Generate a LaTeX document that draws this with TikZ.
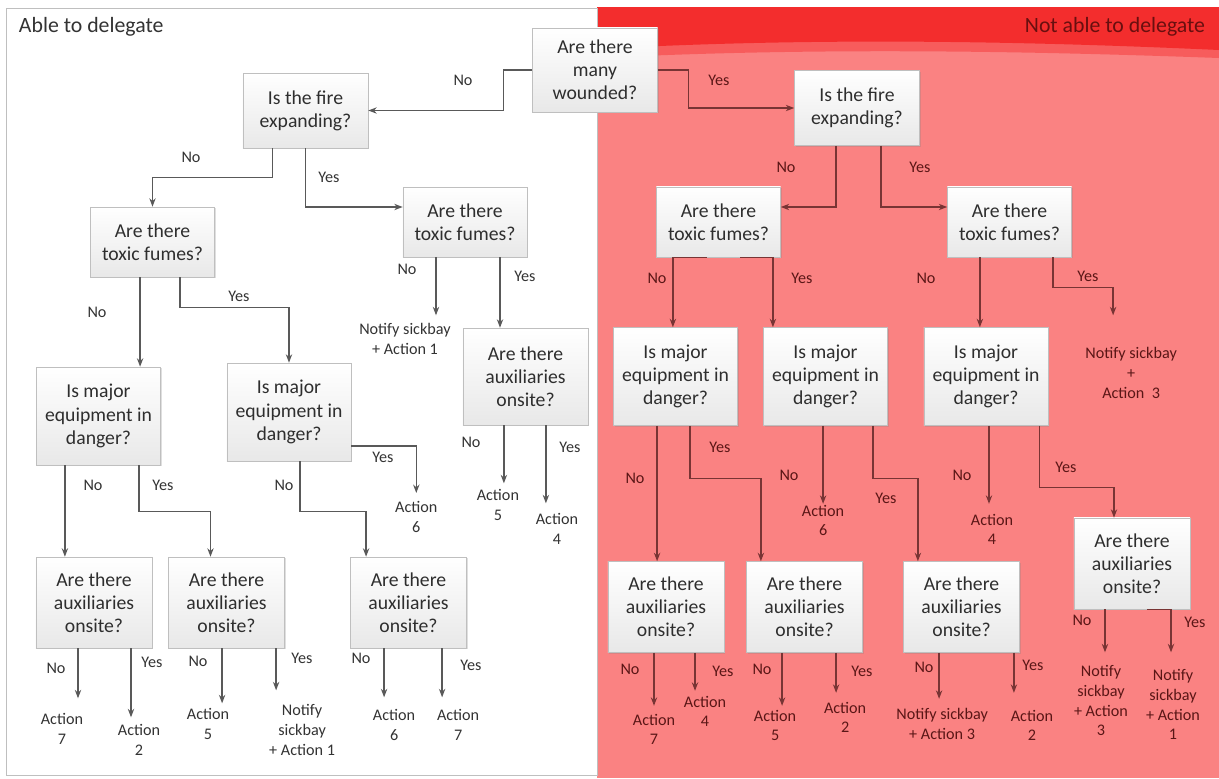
\documentclass[tikz,border=0pt]{standalone}
\usepackage{fontspec}
\setmainfont{Carlito}
\usepackage{tikz}
\usetikzlibrary{arrows, arrows.meta, positioning, shadows}

\definecolor{rbg}{RGB}{250,130,130}
\definecolor{rtop}{RGB}{243,45,45}
\definecolor{rmid}{RGB}{247,92,92}
\definecolor{rtxt}{RGB}{90,22,22}
\definecolor{rline}{RGB}{120,52,52}
\definecolor{rtitle}{RGB}{105,15,15}

\tikzset{
  q/.style={draw=black!25, top color=white, bottom color=black!9, align=center,
    text=black!82, inner sep=2pt, font=\fontsize{14}{16.5}\selectfont,
    drop shadow={opacity=0.25, shadow xshift=0.8pt, shadow yshift=-0.8pt}},
  fire/.style={q, minimum width=3.125cm, minimum height=1.875cm},
  tox/.style={q, minimum width=3.1cm, minimum height=1.75cm},
  maj/.style={q, minimum width=3.1cm, minimum height=2.45cm},
  aux/.style={q, minimum width=2.9cm, minimum height=2.275cm},
  lab/.style={align=center, inner sep=0pt, font=\fontsize{11.5}{14}\selectfont, text=black!80},
  rlab/.style={lab, text=rtxt},
  ln/.style={->, draw=black!65, line width=0.9pt},
  rln/.style={ln, draw=rline},
}

\begin{document}
\begin{tikzpicture}[x=0.025cm, y=-0.025cm, >={Stealth[length=6pt,width=4.5pt]}, node distance=0.2cm]
\useasboundingbox (0,0) rectangle (1219,778);
\fill[rbg] (597,7) rectangle (1219,778);
\fill[rmid] (597,7) -- (1219,7) -- (1219,58) .. controls (1000,50) and (800,48) .. (597,58) -- cycle;
\fill[rtop] (597,7) -- (1219,7) -- (1219,50) .. controls (1000,40) and (800,38) .. (597,49) -- cycle;
\draw[black!25, fill=white] (6,8) rectangle (597,775);

\node[anchor=west, font=\fontsize{15.5}{18}\selectfont, text=black!80] (t1) at (14,27) {Able to delegate};
\node[anchor=east, font=\fontsize{15.5}{18}\selectfont, text=rtitle] (t2) at (1210,27) {Not able to delegate};

\node[q, minimum width=3.125cm, minimum height=2.1cm] (w) at (595,70) {Are there\\many\\wounded?};
\node[fire] (fL) at (305.5,110.5) {Is the fire\\expanding?};
\node[fire] (fR) at (857,108) {Is the fire\\expanding?};
\node[tox] (tL1) at (152.5,242) {Are there\\toxic fumes?};
\node[tox] (tL2) at (465,222) {Are there\\toxic fumes?};
\node[tox] (tR1) at (718.5,222) {Are there\\toxic fumes?};
\node[tox] (tR2) at (1009.5,222) {Are there\\toxic fumes?};
\node[maj] (mL1) at (98.5,416) {Is major\\equipment in\\danger?};
\node[maj] (mL2) at (289,412) {Is major\\equipment in\\danger?};
\node[maj] (mR1) at (675.5,376.5) {Is major\\equipment in\\danger?};
\node[maj] (mR2) at (825.5,376.5) {Is major\\equipment in\\danger?};
\node[maj] (mR3) at (986,376.5) {Is major\\equipment in\\danger?};
\node[aux, minimum width=3.125cm, minimum height=2.425cm] (aL4) at (525.5,376.5) {Are there\\auxiliaries\\onsite?};
\node[aux] (aL1) at (94,602.5) {Are there\\auxiliaries\\onsite?};
\node[aux] (aL2) at (226.5,602.5) {Are there\\auxiliaries\\onsite?};
\node[aux] (aL3) at (408.5,602.5) {Are there\\auxiliaries\\onsite?};
\node[aux] (aR1) at (666,607) {Are there\\auxiliaries\\onsite?};
\node[aux] (aR2) at (804.5,607) {Are there\\auxiliaries\\onsite?};
\node[aux] (aR3) at (961.5,607) {Are there\\auxiliaries\\onsite?};
\node[aux] (aR4) at (1132,563.5) {Are there\\auxiliaries\\onsite?};

\draw[ln] (w.west) -- ++(-29,0) |- (fL.east);
\draw[rln] (w.east) -- ++(31,0) |- (fR.west);
\draw[ln] ([xshift=-0.825cm]fL.south) -- ++(0,29) -| (tL1.north);
\draw[ln] (fL.south) |- ([yshift=0.375cm]tL2.west);
\draw[rln] ([xshift=-0.525cm]fR.south) |- ([yshift=0.375cm]tR1.east);
\draw[rln] ([xshift=0.6cm]fR.south) |- ([yshift=0.375cm]tR2.west);

\draw[ln] ([xshift=-0.31cm]tL1.south) -- ([xshift=-0.31cm]tL1.south |- mL1.north);
\draw[ln] ([xshift=0.69cm]tL1.south) -- ++(0,30) -| (mL2.north);
\draw[ln] ([xshift=0.875cm]tL2.south) -- ([xshift=0.875cm]tL2.south |- aL4.north);
\draw[ln] ([xshift=-0.725cm]tL2.south) -- ++(0,58) coordinate (e1);
\node[lab, below=0.2cm of e1, xshift=-0.775cm] (x1) {Notify sickbay\\+ Action 1};

\draw[ln] ([xshift=-0.84cm]mL1.south) -- ([xshift=-0.84cm]mL1.south |- aL1.north);
\draw[ln] ([xshift=1.01cm]mL1.south) -- ++(0,46) -| ([xshift=-0.4cm]aL2.north);
\draw[ln] ([xshift=0.275cm]mL2.south) -- ++(0,50) -| ([xshift=-1.06cm]aL3.north);
\draw[ln] ([yshift=-0.85cm]mL2.east) -- ++(65,0) -- ++(0,47) coordinate (e2);
\node[lab, below=0.2cm of e2] (x2) {Action\\6};
\draw[ln] ([xshift=-0.54cm]aL4.south) -- ++(0,58) coordinate (e3);
\node[lab, below=0.15cm of e3, xshift=-0.15cm] (x3) {Action\\5};
\draw[ln] ([xshift=0.51cm]aL4.south) -- ++(0,78) coordinate (e4);
\node[lab, below=0.25cm of e4, xshift=0.275cm] (x4) {Action\\4};

\draw[ln] ([xshift=-0.4cm]aL1.south) -- ++(0,50) coordinate (e5);
\node[lab, below=0.375cm of e5, xshift=-0.4cm] (x5) {Action\\7};
\draw[ln] ([xshift=0.925cm]aL1.south) -- ++(0,69) coordinate (e6);
\node[lab, below=0.175cm of e6, xshift=0.2cm] (x6) {Action\\2};
\draw[ln] ([xshift=-0.11cm]aL2.south) -- ++(0,55) coordinate (e7);
\node[lab, below=0.125cm of e7, xshift=-0.35cm] (x7) {Action\\5};
\draw[ln] ([xshift=1.24cm]aL2.south) -- ++(0,42) coordinate (e8);
\node[lab, below=0.35cm of e8, xshift=0.65cm] (x8) {Notify\\sickbay\\+ Action 1};
\draw[ln] ([xshift=-0.61cm]aL3.south) -- ++(0,49) coordinate (e9);
\node[lab, below=0.3cm of e9, xshift=0.25cm] (x9) {Action\\6};
\draw[ln] ([xshift=0.84cm]aL3.south) -- ++(0,49) coordinate (e10);
\node[lab, below=0.3cm of e10, xshift=0.4cm] (x10) {Action\\7};

\draw[rln] ([xshift=-0.3cm]tR1.south) -| ([xshift=-1.14cm]tR1.south |- mR1.north);
\draw[rln] ([xshift=0.54cm]tR1.south) -| ([xshift=1.36cm]tR1.south |- mR2.north);
\draw[rln] ([xshift=-0.74cm]tR2.south) -- ([xshift=-0.74cm]tR2.south |- mR3.north);
\draw[rln] ([xshift=1.09cm]tR2.south) -- ++(0,30) -| ++(60,28) coordinate (e11);
\node[rlab, below=0.8cm of e11, xshift=0.45cm] (x11) {Notify sickbay\\+\\Action\ \ 3};

\draw[rln] ([xshift=-0.46cm]mR1.south) -- ([xshift=-0.46cm]mR1.south |- aR1.north);
\draw[rln] ([xshift=0.36cm]mR1.south) -- ++(0,53) -| ([xshift=-1.09cm]aR2.north);
\draw[rln] ([xshift=1.19cm]mR2.south) -- ++(0,53) -| ([xshift=-1.09cm]aR3.north);
\draw[rln] ([xshift=1.33cm]mR3.south) -- ++(0,62) -| ([xshift=-0.45cm]aR4.north);
\draw[rln] ([xshift=-0.06cm]mR2.south) -- ++(0,78) coordinate (e12);
\node[rlab, below=0.025cm of e12] (x12) {Action\\6};
\draw[rln] ([xshift=0.075cm]mR3.south) -- ++(0,78) coordinate (e13);
\node[rlab, below=0.25cm of e13, xshift=0.075cm] (x13) {Action\\4};

\draw[rln] ([xshift=-0.3cm]aR1.south) -- ++(0,53) coordinate (e14);
\node[rlab, below=0.2cm of e14] (x14) {Action\\7};
\draw[rln] ([xshift=0.725cm]aR1.south) -- ++(0,38) coordinate (e15);
\node[rlab, below=0.125cm of e15, xshift=0.25cm] (x15) {Action\\4};
\draw[rln] ([xshift=-0.56cm]aR2.south) -- ++(0,53) coordinate (e16);
\node[rlab, below=0.1cm of e16, xshift=-0.175cm] (x16) {Action\\5};
\draw[rln] ([xshift=0.79cm]aR2.south) -- ++(0,40) coordinate (e17);
\node[rlab, below=0.225cm of e17, xshift=0.225cm] (x17) {Action\\2};
\draw[rln] ([xshift=-0.56cm]aR3.south) -- ++(0,46) coordinate (e18);
\node[rlab, below=0.225cm of e18, xshift=0.075cm] (x18) {Notify sickbay\\+ Action 3};
\draw[rln] ([xshift=1.31cm]aR3.south) -- ++(0,40) coordinate (e19);
\node[rlab, below=0.425cm of e19, xshift=0.45cm] (x19) {Action\\2};
\draw[rln] ([xshift=-0.675cm]aR4.south) -- ++(0,43) coordinate (e20);
\node[rlab, below=0.325cm of e20, xshift=-0.1cm] (x20) {Notify\\sickbay\\+ Action\\3};
\draw[rln] ([xshift=0.375cm]aR4.south) -| ++(24,43) coordinate (e21);
\node[rlab, below=0.425cm of e21, xshift=0.05cm] (x21) {Notify\\sickbay\\+ Action\\1};

\foreach \x/\y/\t [count=\i] in {463/80/No, 191/157/No, 329/177/Yes, 97/312/No, 239/296/Yes,
  407/269/No, 525/276/Yes, 93/485/No, 163/485/Yes, 284/485/No, 383/457/Yes, 471/442/No,
  570/447/Yes, 56/668/No, 152/662/Yes, 198/661/No, 302/658/Yes, 361/658/No, 471/665/Yes}
  \node[lab] (l\i) at (\x,\y) {\t};
\foreach \x/\y/\t [count=\i] in {719/80/Yes, 786/167/No, 920/167/Yes, 657/278/No, 802/278/Yes,
  926/278/No, 1088/276/Yes, 635/478/No, 720/447/Yes, 789/475/No, 886/498/Yes, 962/475/No,
  1066/467/Yes, 630/669/No, 723/671/Yes, 762/669/No, 862/671/Yes, 924/667/No, 1033/665/Yes,
  1082/620/No, 1195/622/Yes}
  \node[rlab] (r\i) at (\x,\y) {\t};
\end{tikzpicture}
\end{document}
